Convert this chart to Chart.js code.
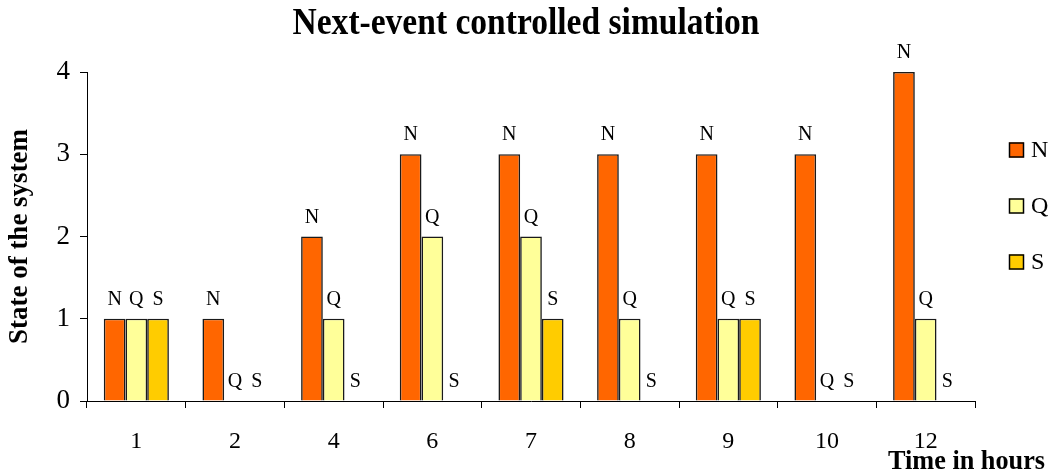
<!DOCTYPE html>
<html>
<head>
<meta charset="utf-8">
<script src="https://cdn.jsdelivr.net/npm/chart.js@4/dist/chart.umd.min.js"></script>
<style>
  html, body { margin: 0; padding: 0; background: #ffffff; }
  #wrap { width: 1063px; height: 473px; }
</style>
</head>
<body>
<div id="wrap"><canvas id="c" width="1063" height="473"></canvas></div>
<script>
// Time points (hours) and the state of the system at each event
const categories = ['1', '2', '4', '6', '7', '8', '9', '10', '12'];
const nValues = [1, 1, 2, 3, 3, 3, 3, 3, 4];
const qValues = [1, 0, 1, 2, 2, 1, 1, 0, 1];
const sValues = [1, 0, 0, 0, 1, 0, 1, 0, 0];
const seriesNames = ['N', 'Q', 'S'];
const yTicks = [0, 1, 2, 3, 4];

const SERIF = '"Liberation Serif", "Times New Roman", serif';

// Draws text at (x, y), squeezing it horizontally if it is wider than maxW
function drawFitted(ctx, text, x, y, maxW, align) {
  const w = ctx.measureText(text).width;
  const s = w > maxW ? maxW / w : 1;
  ctx.save();
  ctx.translate(x, y);
  ctx.scale(s, 1);
  ctx.textAlign = align;
  ctx.fillText(text, 0, 0);
  ctx.restore();
}

// Series letter above every bar, legend at the right, titles
const annotations = {
  id: 'annotations',
  afterDatasetsDraw(chart) {
    const ctx = chart.ctx;
    ctx.save();
    ctx.fillStyle = '#000';
    ctx.font = '20px ' + SERIF;
    ctx.textAlign = 'center';
    ctx.textBaseline = 'alphabetic';
    chart.data.datasets.forEach((ds, i) => {
      const meta = chart.getDatasetMeta(i);
      meta.data.forEach(el => {
        ctx.fillText(ds.label, el.x, el.y - 14);
      });
    });
    ctx.restore();
  },
  afterDraw(chart) {
    const ctx = chart.ctx;
    const area = chart.chartArea;
    ctx.save();
    ctx.fillStyle = '#000';
    ctx.textBaseline = 'alphabetic';

    // chart title
    ctx.font = 'bold 37px ' + SERIF;
    drawFitted(ctx, 'Next-event controlled simulation', (area.left + area.right) / 2 - 5, 34, 467, 'center');

    // x axis title, bottom right
    ctx.font = 'bold 27px ' + SERIF;
    drawFitted(ctx, 'Time in hours', 888, 469, 157, 'left');

    // legend
    const boxX = 1009, box = 15;
    const rowY = [150, 206, 262];
    ctx.font = '24px ' + SERIF;
    ctx.textBaseline = 'middle';
    ctx.textAlign = 'left';
    chart.data.datasets.forEach((ds, i) => {
      const cy = rowY[i];
      ctx.fillStyle = ds.backgroundColor;
      ctx.fillRect(boxX, cy - box / 2, box, box);
      ctx.lineWidth = 1.5;
      ctx.strokeStyle = '#000';
      ctx.strokeRect(boxX + 0.5, cy - box / 2 + 0.5, box - 1, box - 1);
      ctx.fillStyle = '#000';
      ctx.fillText(ds.label, 1031, cy + 1);
    });
    ctx.restore();
  }
};

const colors = ['#FF6600', '#FFFF99', '#FFCC00'];
const values = [nValues, qValues, sValues];

new Chart(document.getElementById('c'), {
  type: 'bar',
  data: {
    labels: categories,
    datasets: seriesNames.map((name, i) => ({
      label: name,
      data: values[i],
      backgroundColor: colors[i],
      borderColor: '#1a1a1a',
      borderWidth: 1.6,
      borderSkipped: 'start',
      categoryPercentage: 0.66,
      barPercentage: 1.0
    }))
  },
  options: {
    responsive: false,
    animation: false,
    devicePixelRatio: 1,
    layout: { padding: { top: 72, right: 88, left: 0, bottom: 0 } },
    plugins: {
      legend: { display: false },
      title: { display: false },
      tooltip: { enabled: false }
    },
    scales: {
      x: {
        afterFit(scale) { scale.height = 72; },
        grid: {
          offset: true,
          drawOnChartArea: false,
          drawTicks: true,
          tickLength: 7,
          color: '#000'
        },
        border: { display: true, color: '#000', width: 1 },
        ticks: {
          color: '#000',
          font: { family: SERIF, size: 24 },
          padding: 19,
          maxRotation: 0
        }
      },
      y: {
        min: 0,
        max: 4,
        afterFit(scale) { scale.width = 87; },
        afterBuildTicks(scale) { scale.ticks = yTicks.map(v => ({ value: v })); },
        grid: {
          drawOnChartArea: false,
          drawTicks: true,
          tickLength: 7,
          color: '#000'
        },
        border: { display: true, color: '#000', width: 1 },
        ticks: {
          color: '#000',
          font: { family: SERIF, size: 27 },
          padding: 10
        },
        title: {
          display: true,
          text: 'State of the system',
          color: '#000',
          font: { family: SERIF, size: 27, weight: 'bold' },
          padding: { top: 4, bottom: 0 }
        }
      }
    }
  },
  plugins: [annotations]
});
</script>
</body>
</html>
